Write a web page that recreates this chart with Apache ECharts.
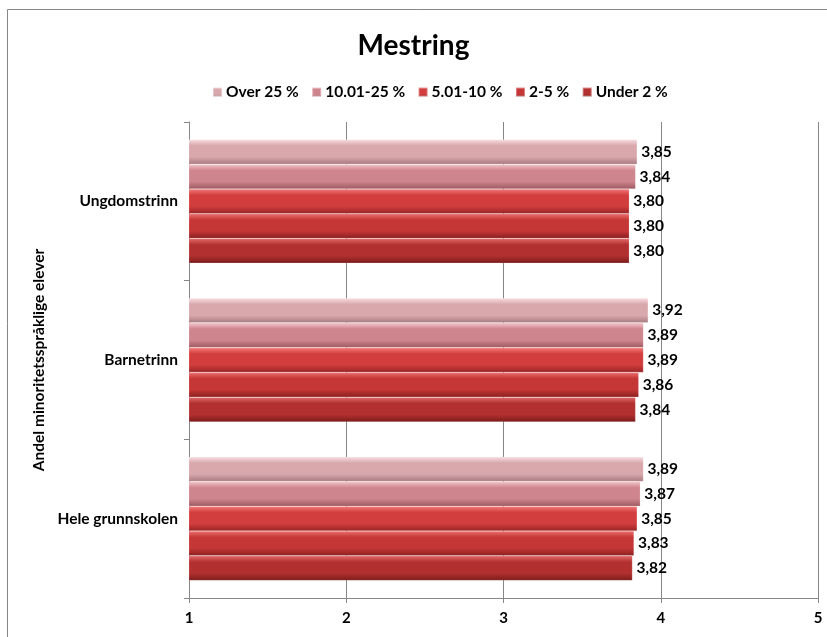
<!DOCTYPE html>
<html>
<head>
<meta charset="utf-8">
<script src="https://cdn.jsdelivr.net/npm/echarts@6/dist/echarts.min.js"></script>
<style>
  html, body { margin: 0; padding: 0; background: #fff; }
  #chart { width: 827px; height: 637px; }
</style>
</head>
<body>
<div id="chart"></div>
<script>
// Categories, listed bottom to top along the y axis
const categories = ['Hele grunnskolen', 'Barnetrinn', 'Ungdomstrinn'];

// Mean "Mestring" score per share of minority-language pupils
const over25     = [3.89, 3.92, 3.85];
const from10to25 = [3.87, 3.89, 3.84];
const from5to10  = [3.85, 3.89, 3.80];
const from2to5   = [3.83, 3.86, 3.80];
const under2     = [3.82, 3.84, 3.80];

// Series in drawing order (first series sits at the top of each group)
const seriesNames = ['Over 25 %', '10.01-25 %', '5.01-10 %', '2-5 %', 'Under 2 %'];
const xTicks = [1, 2, 3, 4, 5];

const seriesData = [over25, from10to25, from5to10, from2to5, under2];

// Shaded fill per series: [top highlight, body, bottom shade]
const shades = [
  ['#f8dfe2', '#d8a8ad', '#a7797e'],
  ['#f3c6cb', '#cf858d', '#9c5960'],
  ['#f47c7c', '#d23d3d', '#982424'],
  ['#ee7070', '#c53636', '#8a1f1f'],
  ['#e46a6a', '#b33030', '#7c1b1b']
];

function grad(c) {
  return new echarts.graphic.LinearGradient(0, 0, 0, 1, [
    { offset: 0, color: c[0] },
    { offset: 0.25, color: c[1] },
    { offset: 0.7, color: c[1] },
    { offset: 1, color: c[2] }
  ]);
}

const FONT = 'Lato, "Open Sans", sans-serif';

const chart = echarts.init(document.getElementById('chart'), null, { renderer: 'canvas' });

chart.setOption({
  animation: false,
  backgroundColor: '#fff',
  title: {
    text: 'Mestring',
    left: 'center',
    top: 27,
    textStyle: { fontFamily: FONT, fontWeight: 'bold', fontSize: 28, color: '#000' }
  },
  legend: {
    data: seriesNames,
    top: 79,
    left: 207,
    itemWidth: 9,
    itemHeight: 9,
    itemGap: 12.5,
    icon: 'rect',
    textStyle: { fontFamily: FONT, fontWeight: 'bold', fontSize: 15.5, color: '#000', padding: [0, 0, 0, -1] }
  },
  graphic: [{
    type: 'rect',
    shape: { x: 7.5, y: 9.5, width: 900, height: 700 },
    style: { fill: 'none', stroke: '#868686', lineWidth: 1 },
    silent: true
  }],
  grid: { left: 189, right: 9, top: 122, bottom: 39 },
  xAxis: {
    type: 'value',
    min: xTicks[0],
    max: xTicks[xTicks.length - 1],
    interval: 1,
    axisLine: { show: true, lineStyle: { color: '#868686' } },
    axisTick: { show: true, inside: false, length: 5, lineStyle: { color: '#868686' } },
    splitLine: { show: true, lineStyle: { color: '#868686', width: 1 } },
    axisLabel: { fontFamily: FONT, fontWeight: 'bold', fontSize: 15, color: '#000', margin: 13 }
  },
  yAxis: {
    type: 'category',
    data: categories,
    name: 'Andel minoritetsspråklige elever',
    nameLocation: 'middle',
    nameGap: 142,
    nameRotate: 90,
    nameTextStyle: { fontFamily: FONT, fontWeight: 'bold', fontSize: 15.5, color: '#000' },
    axisLine: { show: true, lineStyle: { color: '#868686' } },
    axisTick: { show: true, length: 5, lineStyle: { color: '#868686' } },
    axisLabel: { fontFamily: FONT, fontWeight: 'bold', fontSize: 15.5, color: '#000', margin: 11 }
  },
  series: seriesNames.map((name, i) => ({
    name: name,
    type: 'bar',
    data: seriesData[i],
    barGap: '0%',
    barCategoryGap: '22%',
    itemStyle: {
      color: grad(shades[i]),
      borderColor: 'rgba(255,255,255,0.35)',
      borderWidth: 0.5
    },
    label: {
      show: true,
      position: 'right',
      distance: 4,
      fontFamily: FONT,
      fontWeight: 'bold',
      fontSize: 15.5,
      color: '#000',
      formatter: p => p.value.toFixed(2).replace('.', ',')
    }
  }))
});
</script>
</body>
</html>
